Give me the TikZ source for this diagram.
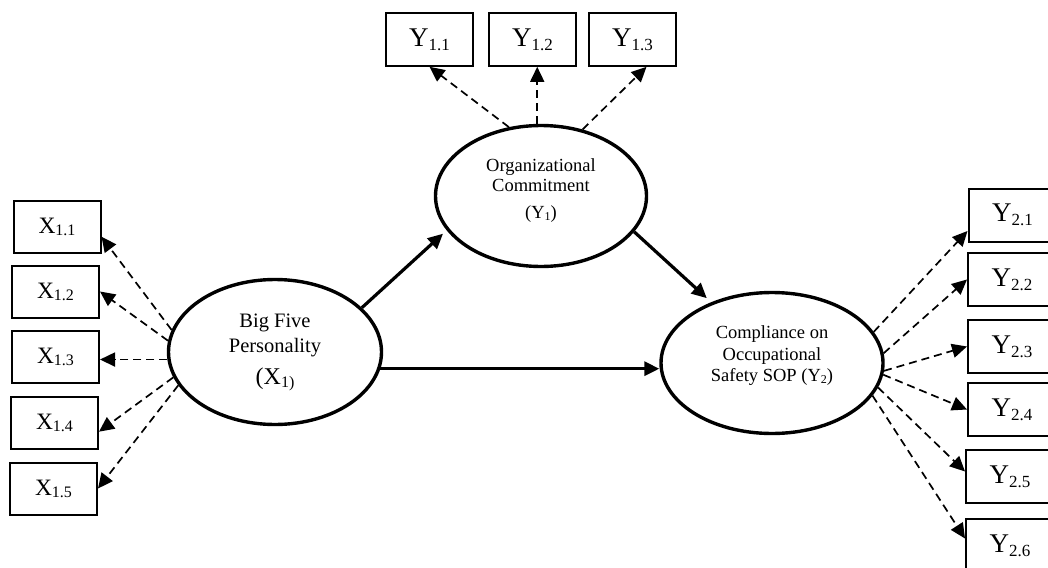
\documentclass[tikz,border=0pt]{standalone}
\usepackage{fontspec}
\setmainfont{Liberation Serif}
\usetikzlibrary{arrows.meta,shapes.geometric,calc}
\newcommand{\mxlab}[1]{\fontsize{23.5}{23.5}\selectfont X\raisebox{-2pt}{\fontsize{16}{16}\selectfont #1}}
\newcommand{\mylab}[1]{\fontsize{27}{27}\selectfont Y\raisebox{-4pt}{\fontsize{17}{17}\selectfont #1}}
\begin{document}
\begin{tikzpicture}[x=1pt,y=-1pt,
  ind/.style={draw,line width=2pt,minimum width=87pt,minimum height=52pt,inner sep=0pt},
  lat/.style={draw,ellipse,line width=3.4pt,inner sep=0pt},
  lbl/.style={align=center,inner sep=0pt},
  dsh/.style={line width=1.7pt,dash pattern=on 8pt off 5pt,-{Triangle[length=15pt,width=14pt]}},
  main/.style={line width=3.2pt,-{Triangle[length=15pt,width=14pt]}}]
\clip (0,0) rectangle (1048,567);
% latent variables
\node[lat,minimum width=213pt,minimum height=145pt] (bf) at (275,352) {};
\node[lat,minimum width=211pt,minimum height=141pt] (org) at (541,196) {};
\node[lat,minimum width=222pt,minimum height=141pt] (comp) at (772,363) {};
\node[lbl,font={\fontsize{20.5}{25}\selectfont}] (bft) at (275,352.5)
  {Big Five\\Personality\\[7pt]{\fontsize{24}{25}\selectfont (X\raisebox{-3pt}{\fontsize{16}{16}\selectfont 1)}}};
\node[lbl,font={\fontsize{18.5}{20}\selectfont}] (orgt) at (541,191)
  {Organizational\\Commitment\\[7pt](Y\raisebox{-2pt}{\fontsize{12}{12}\selectfont 1})};
\node[lbl,font={\fontsize{18.5}{21.5}\selectfont}] (compt) at (772,356)
  {Compliance on\\Occupational\\Safety SOP (Y\raisebox{-2pt}{\fontsize{12}{12}\selectfont 2})};
% indicators X
\node[ind] (x11) at (57,226.7) {\mxlab{1.1}};
\node[ind] (x12) at (55.5,291.5) {\mxlab{1.2}};
\node[ind] (x13) at (55.5,357) {\mxlab{1.3}};
\node[ind] (x14) at (54.5,422.7) {\mxlab{1.4}};
\node[ind] (x15) at (53.5,488.5) {\mxlab{1.5}};
% indicators Y1
\node[ind,minimum height=53pt] (y11) at (429.5,39.3) {\mylab{1.1}};
\node[ind,minimum height=53pt] (y12) at (532.5,39.3) {\mylab{1.2}};
\node[ind,minimum height=53pt] (y13) at (632.5,39.3) {\mylab{1.3}};
% indicators Y2
\node[ind,minimum width=88pt,minimum height=53pt] (y21) at (1012.5,215) {\mylab{2.1}};
\node[ind,minimum width=88pt,minimum height=53pt] (y22) at (1012,279.5) {\mylab{2.2}};
\node[ind,minimum width=88pt,minimum height=53pt] (y23) at (1012,346.5) {\mylab{2.3}};
\node[ind,minimum width=88pt,minimum height=53pt] (y24) at (1012,409.5) {\mylab{2.4}};
\node[ind,minimum width=88pt,minimum height=53pt] (y25) at (1010,476.5) {\mylab{2.5}};
\node[ind,minimum width=88pt,minimum height=53pt] (y26) at (1010,545.5) {\mylab{2.6}};
% structural paths
\draw[main,shorten >=5pt] (bf.27) -- (org.200);
\draw[main,shorten >=6pt] (org.-21) -- (comp.135);
\draw[main] (bf.-9) -- (bf.-9 -| comp.west);
% X loadings
\draw[dsh] (bf.168) -- ([yshift=-10pt]x11.east);
\draw[dsh] (bf.174) -- (x12.east);
\draw[dsh] (bf.184) -- (bf.184 -| x13.east);
\draw[dsh] (bf.194) -- ([yshift=-9pt]x14.east);
\draw[dsh] (bf.199) -- (x15.east);
% Y1 loadings
\draw[dsh] (org.115) -- (y11.south);
\draw[dsh] (org.93) -- (org.93 |- y12.south);
\draw[dsh] (org.58) -- ([xshift=14pt]y13.south);
% Y2 loadings
\draw[dsh] (comp.17) -- ([yshift=-16pt]y21.west);
\draw[dsh] (comp.5) -- (y22.west);
\draw[dsh] (comp.-4) -- (y23.west);
\draw[dsh] (comp.-6) -- (y24.west);
\draw[dsh] (comp.-13) -- ([yshift=5pt]y25.west);
\draw[dsh] (comp.-18) -- ([yshift=7pt]y26.west);
\end{tikzpicture}
\end{document}
